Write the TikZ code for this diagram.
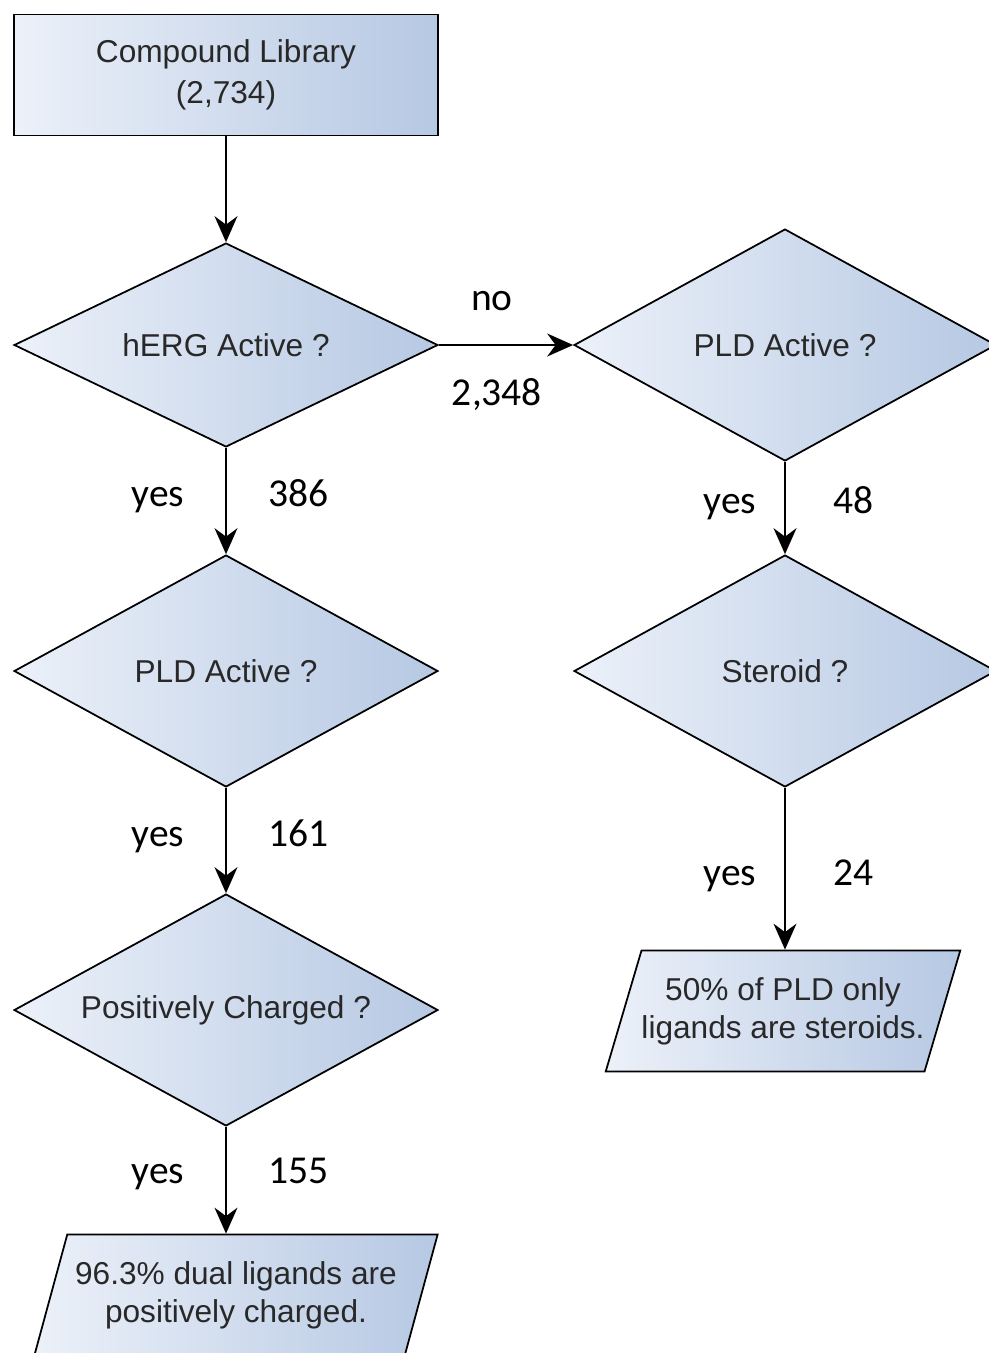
\documentclass[tikz,border=0pt]{standalone}
\usepackage{fontspec}
\setmainfont{Liberation Sans}
\newfontfamily\lblfont{Carlito}
\usetikzlibrary{arrows.meta,positioning,shapes.geometric}

\definecolor{fillL}{RGB}{236,241,249}
\definecolor{fillR}{RGB}{182,200,227}
\definecolor{txt}{RGB}{40,40,40}

\begin{document}
\begin{tikzpicture}[x=0.02cm,y=-0.02cm,
  block/.style={draw,line width=1pt,left color=fillL,right color=fillR,text=txt,align=center,
    font=\fontsize{18}{23}\selectfont},
  decision/.style={block,diamond,aspect=2,inner sep=0pt,minimum width=8.48cm,minimum height=4.64cm},
  io/.style={block,trapezium,trapezium stretches=true,inner sep=0pt,minimum height=2.42cm,
    font=\fontsize{18}{21.5}\selectfont},
  lbl/.style={font=\lblfont\fontsize{22.5}{27}\selectfont,inner sep=0pt,text height=13.5pt,text depth=6.75pt},
  arr/.style={-{Stealth[length=0.52cm,width=0.46cm,inset=0.17cm]},line width=1pt}]
\useasboundingbox (0,0) rectangle (989,1353);
\node[block,minimum width=8.48cm,minimum height=2.42cm] (lib) at (226,75) {Compound Library\\(2,734)};
\node[decision,minimum height=4.08cm] (herg) at (226,345) {hERG Active ?};
\node[decision,minimum width=8.44cm] (pld2) at (785,345) {PLD Active ?};
\node[decision] (pld1) at (226,671) {PLD Active ?};
\node[decision,minimum width=8.44cm] (ster) at (785,671) {Steroid ?};
\node[decision] (chg) at (226,1010) {Positively Charged ?};
\node[io,trapezium left angle=62,trapezium right angle=118,minimum width=6.98cm] (out2) at (783,1011)
  {50\% of PLD only\\ligands are steroids.};
\node[io,trapezium left angle=65,trapezium right angle=115,minimum width=8.08cm] (out1) at (236,1295)
  {96.3\% dual ligands are\\positively charged.};
\draw[arr] (lib) -- (herg);
\draw[arr] (herg) -- node[lbl,above=0.43cm,xshift=-0.28cm] {no} node[lbl,below=0.71cm,xshift=-0.18cm] {2,348} (pld2);
\draw[arr] (herg) -- node[lbl,left=0.82cm] {yes} node[lbl,right=0.84cm] {386} (pld1);
\draw[arr] (pld1) -- node[lbl,left=0.82cm] {yes} node[lbl,right=0.84cm] {161} (chg);
\draw[arr] (chg) -- node[lbl,left=0.82cm,yshift=0.06cm] {yes} node[lbl,right=0.84cm,yshift=0.06cm] {155} (chg.south |- out1.north);
\draw[arr] (pld2) -- node[lbl,left=0.56cm] {yes} node[lbl,right=0.96cm] {48} (ster);
\draw[arr] (ster) -- node[lbl,left=0.56cm,yshift=-0.22cm] {yes} node[lbl,right=0.96cm,yshift=-0.22cm] {24} (ster.south |- out2.north);
\end{tikzpicture}
\end{document}
